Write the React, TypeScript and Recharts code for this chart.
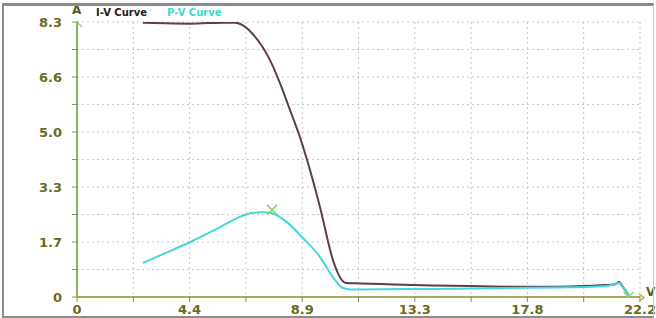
import React from 'react';
import {
  ComposedChart,
  Line,
  Scatter,
  XAxis,
  YAxis,
  CartesianGrid,
} from 'recharts';

// I-V curve: voltage (V) and current (A)
const ivVolts = [2.6, 3.5, 4.5, 5.2, 5.8, 6.23, 6.55, 6.94, 7.3, 7.61, 8.0, 8.4, 8.79, 9.07, 9.58, 10.09, 10.3, 10.45, 10.6, 11.2, 12.5, 14, 15.5, 17, 18.5, 19.5, 20.3, 20.8, 21.2, 21.37, 21.53, 21.75];
const ivAmps = [8.28, 8.26, 8.25, 8.27, 8.28, 8.28, 8.2, 7.93, 7.57, 7.15, 6.46, 5.64, 4.83, 4.14, 2.72, 1.12, 0.7, 0.5, 0.42, 0.41, 0.38, 0.35, 0.33, 0.31, 0.31, 0.32, 0.34, 0.36, 0.38, 0.45, 0.3, 0.05];

// P-V curve (plotted on the same axis scale)
const pvVolts = [2.6, 3.5, 4.46, 5.1, 5.64, 6.31, 6.94, 7.3, 7.61, 8.28, 8.91, 9.58, 10.09, 10.49, 10.8, 11.16, 13, 15, 17, 19, 20.3, 21.0, 21.37, 21.53, 21.75];
const pvPower = [1.03, 1.33, 1.66, 1.9, 2.11, 2.38, 2.54, 2.56, 2.54, 2.26, 1.78, 1.21, 0.6, 0.27, 0.23, 0.23, 0.24, 0.25, 0.27, 0.29, 0.31, 0.35, 0.42, 0.28, 0.03];

// Isc, Pmax and Voc markers
const markerVolts = [0, 7.69, 21.75];
const markerValues = [8.3, 2.63, 0];

const xTicks = [0, 2.22, 4.44, 6.66, 8.88, 11.1, 13.32, 15.54, 17.76, 19.98, 22.2];
const xTickLabels = ['0', '4.4', '8.9', '13.3', '17.8', '22.2'];
const yTicks = [0, 0.83, 1.66, 2.49, 3.32, 4.15, 4.98, 5.81, 6.64, 7.47, 8.3];
const yTickLabels = ['0', '1.7', '3.3', '5.0', '6.6', '8.3'];

const ivData = ivVolts.map((v, i) => ({ v, y: ivAmps[i] }));
const pvData = pvVolts.map((v, i) => ({ v, y: pvPower[i] }));
const markerData = markerVolts.map((v, i) => ({ v, y: markerValues[i] }));

const labelColor = '#6b6a1f';
const fontFamily = 'DejaVu Sans, Verdana, sans-serif';

const CrossMark = (props: any) => {
  const { cx, cy } = props;
  if (cx == null || cy == null) return null;
  const s = 5;
  return (
    <g stroke="#7fdc70" strokeWidth={1.5}>
      <line x1={cx - s} y1={cy - s} x2={cx + s} y2={cy + s} />
      <line x1={cx - s} y1={cy + s} x2={cx + s} y2={cy - s} />
    </g>
  );
};

// ticks that cross the axis line, label only on every other tick
const XTick = (props: any) => {
  const { x, y, index } = props;
  const label = index % 2 === 0 ? xTickLabels[index / 2] : '';
  return (
    <g>
      <line x1={x} y1={y - 7} x2={x} y2={y - 1} stroke="#8a8a50" />
      <text x={x} y={y + 11} textAnchor="middle" fontSize={13} fontWeight="bold" fill={labelColor} fontFamily={fontFamily}>
        {label}
      </text>
    </g>
  );
};

const YTick = (props: any) => {
  const { x, y, index } = props;
  const label = index % 2 === 0 ? yTickLabels[index / 2] : '';
  return (
    <g>
      <line x1={x + 1} y1={y} x2={x + 7} y2={y} stroke="#8a9a60" />
      <text x={x - 9} y={y + 5} textAnchor="end" fontSize={13} fontWeight="bold" fill={labelColor} fontFamily={fontFamily}>
        {label}
      </text>
    </g>
  );
};

const App: React.FC = () => {
  return (
    <div style={{ position: 'absolute', left: 0, top: 0, width: 656, height: 318, background: '#fff' }}>
      <ComposedChart
        width={656}
        height={318}
        margin={{ top: 22, right: 16, bottom: 0, left: 5 }}
      >
        <CartesianGrid strokeDasharray="2 3" stroke="#c6c6c6" />
        <XAxis
          type="number"
          dataKey="v"
          domain={[0, 22.2]}
          ticks={xTicks}
          allowDataOverflow
          height={21}
          tickSize={4}
          interval={0}
          tick={<XTick />}
          tickLine={false}
          axisLine={{ stroke: '#a9a95c', strokeWidth: 2 }}
        />
        <YAxis
          type="number"
          dataKey="y"
          domain={[0, 8.3]}
          ticks={yTicks}
          allowDataOverflow
          width={72}
          tickSize={4}
          interval={0}
          tick={<YTick />}
          tickLine={false}
          axisLine={{ stroke: '#8fae6a', strokeWidth: 2 }}
        />
        <Line
          data={ivData}
          dataKey="y"
          type="monotone"
          stroke="#5c3e4e"
          strokeWidth={2}
          dot={false}
          isAnimationActive={false}
        />
        <Line
          data={pvData}
          dataKey="y"
          type="monotone"
          stroke="#45d8da"
          strokeWidth={2}
          dot={false}
          isAnimationActive={false}
        />
        <Scatter
          data={markerData}
          dataKey="y"
          shape={CrossMark}
          isAnimationActive={false}
        />
      </ComposedChart>
      <div style={{ position: 'absolute', left: 96, top: 7, fontFamily, fontSize: 10, fontWeight: 'bold', whiteSpace: 'nowrap' }}>
        <span style={{ color: '#222' }}>I-V Curve</span>
        <span style={{ color: '#3fd6d8', marginLeft: 20 }}>P-V Curve</span>
      </div>
      <div style={{ position: 'absolute', left: 72, top: 3, fontFamily, fontSize: 12, fontWeight: 'bold', color: '#55581f' }}>A</div>
      <svg style={{ position: 'absolute', left: 638, top: 293 }} width={8} height={9}>
        <path d="M1 1 L6 4.5 L1 8" fill="none" stroke="#a9a95c" strokeWidth={1.5} />
      </svg>
      <div style={{ position: 'absolute', left: 646, top: 285, fontFamily, fontSize: 12, fontWeight: 'bold', color: '#55581f' }}>V</div>
      <div style={{ position: 'absolute', left: 2, top: 3, width: 649, height: 310, borderTop: '3px solid #8c8c8c', borderLeft: '2px solid #8c8c8c', borderBottom: '3px solid #8c8c8c', borderRight: '1px solid #c8c8c8', pointerEvents: 'none' }} />
    </div>
  );
};

export default App;
